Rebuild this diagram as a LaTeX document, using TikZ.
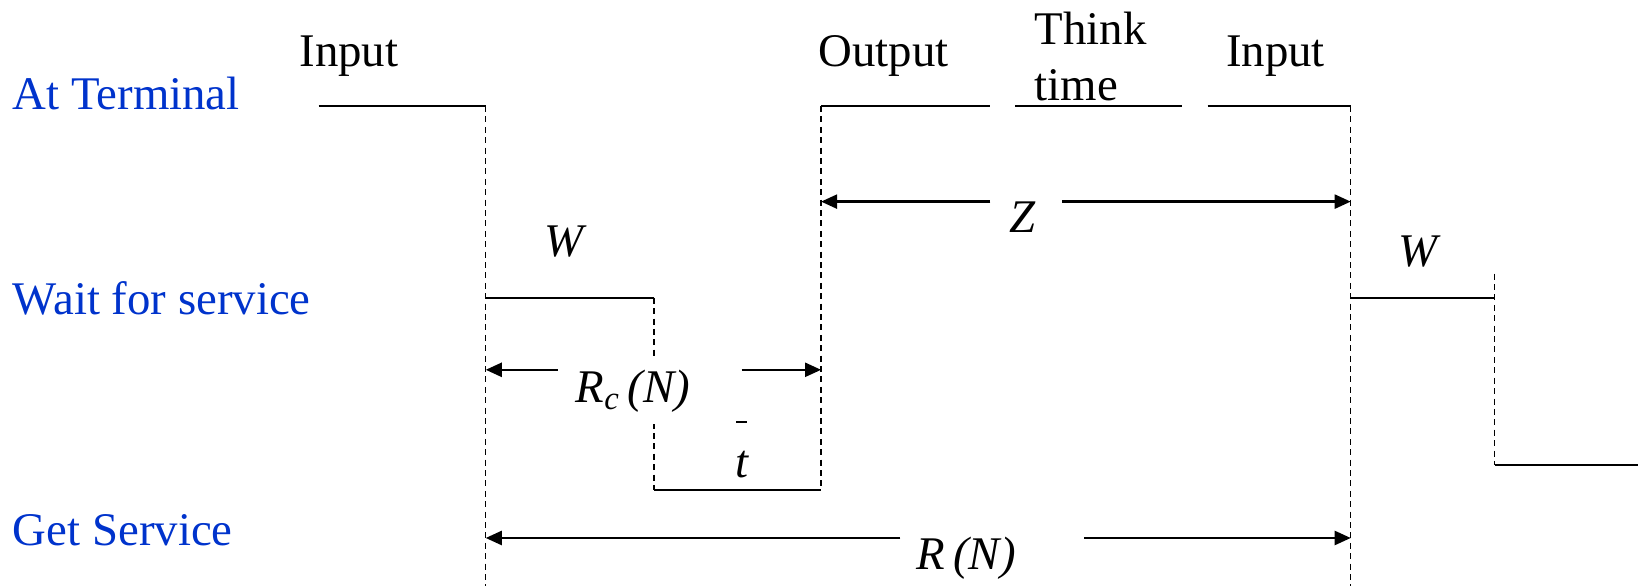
\documentclass[tikz,border=0pt]{standalone}
\usepackage{fontspec}
\setmainfont{Liberation Serif}
\usetikzlibrary{arrows.meta}
\definecolor{lblblue}{RGB}{0,51,204}
\begin{document}
\begin{tikzpicture}[x=0.5223pt,y=-0.5223pt,
  lvl/.style={line width=0.9pt},
  guide/.style={line width=0.6pt, dash pattern=on 3pt off 2.2pt},
  dim/.style={line width=1.15pt, -{Triangle[length=8pt,width=7pt]}},
  rowlabel/.style={anchor=base west, inner sep=0, text=lblblue, font=\fontsize{23.4}{28}\selectfont},
  tlabel/.style={anchor=base, inner sep=0, font=\fontsize{23.4}{28}\selectfont},
  vlabel/.style={anchor=base, inner sep=0, font=\fontsize{23.4}{28}\selectfont\itshape}]
\useasboundingbox (0,0) rectangle (1568,561);

% row labels
\node[rowlabel] (term) at (12,105) {At Terminal};
\node[rowlabel] (wait) at (12,301) {Wait for service};
\node[rowlabel] (serv) at (12,522) {Get Service};

% timeline coordinates
\coordinate (a0) at (305,101.5);
\coordinate (a1) at (465,101.5);
\coordinate (a1b) at (465,561);
\coordinate (w0) at (465,285);
\coordinate (w1) at (626,285);
\coordinate (s0) at (626,469);
\coordinate (s1) at (786,469);
\coordinate (o0) at (786,101.5);
\coordinate (o1) at (948,101.5);
\coordinate (k0) at (972,101.5);
\coordinate (k1) at (1131,101.5);
\coordinate (i0) at (1156,101.5);
\coordinate (i1) at (1293,101.5);
\coordinate (i1b) at (1293,561);
\coordinate (v0) at (1293,285);
\coordinate (v1) at (1431,285);
\coordinate (v1t) at (1431,262);
\coordinate (g0) at (1431,445);
\coordinate (g1) at (1568,445);

% solid level lines
\draw[lvl] (a0) -- (a1);
\draw[lvl] (w0) -- (w1);
\draw[lvl] (s0) -- (s1);
\draw[lvl] (o0) -- (o1);
\draw[lvl] (k0) -- (k1);
\draw[lvl] (i0) -- (i1);
\draw[lvl] (v0) -- (v1);
\draw[lvl] (g0) -- (g1);

% dashed guides
\draw[guide] (a1) -- (a1b);
\draw[guide] (w1) -- (s0);
\draw[guide] (o0) -- (s1);
\draw[guide] (i1) -- (i1b);
\draw[guide] (v1t) -- (g0);

% top labels
\node[tlabel] (in1) at (334,64) {Input};
\node[tlabel] (out) at (846,64) {Output};
\node[anchor=north west, inner sep=0, align=left, font=\fontsize{23.4}{28.2}\selectfont] (think) at (990,11) {Think\\time};
\node[tlabel] (in2) at (1221,64) {Input};

% variable labels
\node[vlabel] (wl1) at (540,246) {W};
\node[vlabel] (zl) at (979,223) {Z};
\node[vlabel, fill=white, inner xsep=1pt, inner ysep=6pt] (rcl) at (606,385) {R\textsubscript{c}\,(N)};
\node[vlabel] (tl) at (710,457) {t};
\coordinate (tb0) at (705,404);
\coordinate (tb1) at (715,404);
\draw[line width=0.9pt] (tb0) -- (tb1);
\node[vlabel] (rnl) at (925,545) {R\,(N)};
\node[vlabel] (wl2) at (1357,255) {W};

% dimension arrows
\coordinate (zL) at (948,193);
\coordinate (zR) at (1017,193);
\draw[dim] (zL) -- (zL -| o0);
\draw[dim] (zR) -- (zR -| i1);
\coordinate (rcL) at (534,354);
\coordinate (rcR) at (710,354);
\draw[dim] (rcL) -- (rcL -| a1);
\draw[dim] (rcR) -- (rcR -| o0);
\coordinate (rL) at (862,515);
\coordinate (rR) at (1038,515);
\draw[dim] (rL) -- (rL -| a1);
\draw[dim] (rR) -- (rR -| i1);
\end{tikzpicture}
\end{document}
